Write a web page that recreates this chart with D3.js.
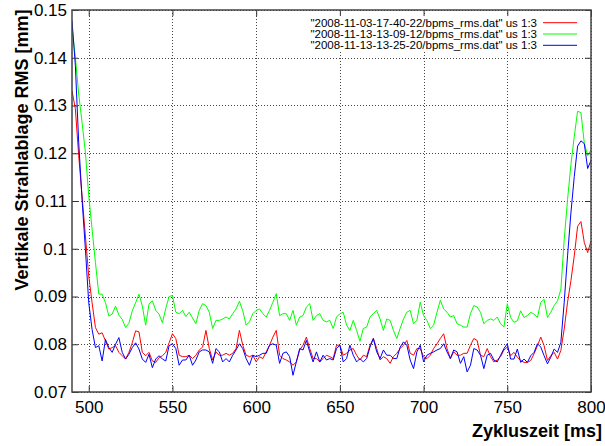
<!DOCTYPE html>
<html>
<head>
<meta charset="utf-8">
<script src="https://cdn.jsdelivr.net/npm/d3@7"></script>
<style>
  body { margin: 0; background: #fff; }
  svg { display: block; font-family: "Liberation Sans", Arial, sans-serif; }
</style>
</head>
<body>
<div id="chart"></div>
<script>
// Zeitachse: alle 2 ms von 490 bis 800
var tStart = 490, tStep = 2;

// Messreihe 2008-11-03-17-40-22 (rot)
var rmsRed = [
  0.1331, 0.1293, 0.1195, 0.1111, 0.1027, 0.0943, 0.0887, 0.0835, 0.0821, 0.0824,
  0.0807, 0.0790, 0.0793, 0.0797, 0.0783, 0.0776, 0.0769, 0.0783, 0.0803, 0.0828,
  0.0826, 0.0783, 0.0776, 0.0783, 0.0765, 0.0762, 0.0772, 0.0776, 0.0783, 0.0803,
  0.0822, 0.0812, 0.0777, 0.0774, 0.0774, 0.0777, 0.0770, 0.0777, 0.0788, 0.0794,
  0.0829, 0.0791, 0.0767, 0.0784, 0.0777, 0.0777, 0.0781, 0.0777, 0.0781, 0.0791,
  0.0829, 0.0798, 0.0777, 0.0774, 0.0777,
  0.0763, 0.0774, 0.0770, 0.0784, 0.0798, 0.0815, 0.0829, 0.0777, 0.0770, 0.0767,
  0.0763, 0.0756, 0.0763, 0.0788, 0.0798, 0.0815, 0.0791, 0.0770, 0.0770, 0.0763,
  0.0770, 0.0777, 0.0774, 0.0770, 0.0798, 0.0798,
  0.0777, 0.0781, 0.0788, 0.0791, 0.0777, 0.0767, 0.0777, 0.0774, 0.0798, 0.0812,
  0.0791, 0.0767, 0.0774, 0.0770, 0.0760, 0.0774, 0.0781, 0.0791, 0.0798, 0.0808,
  0.0781, 0.0777, 0.0791, 0.0791, 0.0774,
  0.0770, 0.0777, 0.0791, 0.0801, 0.0812, 0.0822, 0.0791, 0.0770, 0.0784, 0.0777,
  0.0777, 0.0781, 0.0781, 0.0798, 0.0812, 0.0808, 0.0777, 0.0774, 0.0791, 0.0774,
  0.0763, 0.0767, 0.0774, 0.0788, 0.0794,
  0.0776, 0.0783, 0.0773, 0.0766, 0.0762, 0.0762, 0.0766, 0.0780, 0.0797, 0.0815,
  0.0797, 0.0766, 0.0776, 0.0783, 0.0769, 0.0787, 0.0832, 0.0888, 0.0933, 0.0985,
  0.1047, 0.1057, 0.1013, 0.0992, 0.1016
];

// Messreihe 2008-11-13-13-09-12 (gruen)
var rmsGreen = [
  0.1464, 0.1401, 0.1324, 0.1265, 0.1202, 0.1111, 0.1041, 0.0971, 0.0905, 0.0905,
  0.0887, 0.0859, 0.0863, 0.0880, 0.0861, 0.0852, 0.0835, 0.0844, 0.0870, 0.0887,
  0.0905, 0.0880, 0.0840, 0.0884, 0.0891, 0.0871, 0.0863, 0.0845, 0.0875, 0.0900,
  0.0902, 0.0867, 0.0864, 0.0871, 0.0858, 0.0867, 0.0855, 0.0843, 0.0871, 0.0885,
  0.0881, 0.0867, 0.0833, 0.0850, 0.0850, 0.0853, 0.0857, 0.0853, 0.0864, 0.0874,
  0.0890, 0.0870, 0.0840, 0.0847, 0.0864,
  0.0871, 0.0874, 0.0864, 0.0857, 0.0871, 0.0888, 0.0906, 0.0860, 0.0864, 0.0864,
  0.0850, 0.0871, 0.0840, 0.0857, 0.0860, 0.0878, 0.0885, 0.0850, 0.0860, 0.0864,
  0.0850, 0.0847, 0.0850, 0.0833, 0.0857, 0.0864,
  0.0867, 0.0840, 0.0829, 0.0850, 0.0829, 0.0806, 0.0833, 0.0836, 0.0857, 0.0864,
  0.0871, 0.0853, 0.0829, 0.0853, 0.0850, 0.0829, 0.0812, 0.0833, 0.0853, 0.0867,
  0.0871, 0.0843, 0.0850, 0.0888, 0.0860,
  0.0850, 0.0833, 0.0840, 0.0867, 0.0892, 0.0874, 0.0867, 0.0857, 0.0860, 0.0843,
  0.0840, 0.0836, 0.0836, 0.0864, 0.0881, 0.0878, 0.0867, 0.0843, 0.0850, 0.0853,
  0.0850, 0.0857, 0.0843, 0.0836, 0.0885,
  0.0856, 0.0846, 0.0849, 0.0870, 0.0856, 0.0860, 0.0867, 0.0863, 0.0856, 0.0888,
  0.0894, 0.0856, 0.0867, 0.0881, 0.0891, 0.0915, 0.1019, 0.1103, 0.1176, 0.1235,
  0.1288, 0.1285, 0.1221, 0.1195, 0.1207
];

// Messreihe 2008-11-13-13-25-20 (blau)
var rmsBlue = [
  0.1478, 0.1384, 0.1223, 0.1104, 0.0999, 0.0887, 0.0831, 0.0793, 0.0797, 0.0765,
  0.0810, 0.0793, 0.0783, 0.0800, 0.0814, 0.0783, 0.0769, 0.0779, 0.0793, 0.0803,
  0.0790, 0.0769, 0.0762, 0.0779, 0.0751, 0.0769, 0.0776, 0.0769, 0.0765, 0.0797,
  0.0801, 0.0791, 0.0756, 0.0767, 0.0767, 0.0777, 0.0756, 0.0767, 0.0784, 0.0788,
  0.0788, 0.0784, 0.0760, 0.0791, 0.0784, 0.0763, 0.0770, 0.0763, 0.0777, 0.0788,
  0.0801, 0.0791, 0.0770, 0.0756, 0.0777,
  0.0774, 0.0777, 0.0781, 0.0781, 0.0798, 0.0801, 0.0798, 0.0760, 0.0781, 0.0784,
  0.0774, 0.0735, 0.0763, 0.0791, 0.0788, 0.0808, 0.0784, 0.0763, 0.0784, 0.0763,
  0.0777, 0.0767, 0.0770, 0.0767, 0.0791, 0.0798,
  0.0763, 0.0770, 0.0798, 0.0777, 0.0763, 0.0770, 0.0763, 0.0770, 0.0794, 0.0812,
  0.0784, 0.0770, 0.0788, 0.0777, 0.0777, 0.0770, 0.0770, 0.0794, 0.0805, 0.0798,
  0.0767, 0.0749, 0.0784, 0.0798, 0.0763,
  0.0777, 0.0781, 0.0784, 0.0788, 0.0791, 0.0801, 0.0784, 0.0770, 0.0788, 0.0784,
  0.0760, 0.0774, 0.0742, 0.0756, 0.0791, 0.0788, 0.0777, 0.0749, 0.0777, 0.0781,
  0.0767, 0.0763, 0.0777, 0.0791, 0.0801,
  0.0769, 0.0769, 0.0790, 0.0762, 0.0769, 0.0762, 0.0776, 0.0783, 0.0801, 0.0794,
  0.0776, 0.0759, 0.0773, 0.0790, 0.0783, 0.0804, 0.0888, 0.0985, 0.1075, 0.1151,
  0.1215, 0.1226, 0.1220, 0.1168, 0.1185
];

var seriesNames = [
  '"2008-11-03-17-40-22/bpms_rms.dat" us 1:3',
  '"2008-11-13-13-09-12/bpms_rms.dat" us 1:3',
  '"2008-11-13-13-25-20/bpms_rms.dat" us 1:3'
];
var seriesColors = ["#ff0000", "#00ff00", "#0000ff"];

var xTicks = [500, 550, 600, 650, 700, 750, 800];
var yTicks = [0.07, 0.08, 0.09, 0.10, 0.11, 0.12, 0.13, 0.14, 0.15];

var W = 605, H = 446;
var m = {left: 72, right: 14, top: 10, bottom: 54};

var svg = d3.select("#chart").append("svg").attr("width", W).attr("height", H);

var x = d3.scaleLinear().domain([490, 800]).range([m.left, W - m.right]);
var y = d3.scaleLinear().domain([0.07, 0.15]).range([H - m.bottom, m.top]);

svg.append("clipPath").attr("id", "clip")
  .append("rect")
  .attr("x", m.left).attr("y", m.top)
  .attr("width", x.range()[1] - m.left).attr("height", y.range()[0] - m.top);

//Gitter
var grid = svg.append("g").attr("stroke", "#444").attr("stroke-width", 1).attr("stroke-dasharray", "1,2");
grid.selectAll(".gx").data(xTicks).enter().append("line")
  .attr("x1", d => Math.round(x(d)) + 0.5).attr("x2", d => Math.round(x(d)) + 0.5)
  .attr("y1", y.range()[1]).attr("y2", y.range()[0]);
grid.selectAll(".gy").data(yTicks).enter().append("line")
  .attr("y1", d => Math.round(y(d)) + 0.5).attr("y2", d => Math.round(y(d)) + 0.5)
  .attr("x1", x.range()[0]).attr("x2", x.range()[1]);

// Legende deckt das Gitter ab
svg.append("rect").attr("x", 298).attr("y", 15).attr("width", 286).attr("height", 36).attr("fill", "#fff");

//Kurven
var times = rmsRed.map((v, i) => tStart + i * tStep);
var line = d3.line().x(d => x(d[0])).y(d => y(d[1]));
var allSeries = [rmsRed, rmsGreen, rmsBlue];
var plot = svg.append("g").attr("clip-path", "url(#clip)");
allSeries.forEach(function (s, k) {
  plot.append("path")
    .datum(s.map((v, i) => [times[i], v]))
    .attr("fill", "none")
    .attr("stroke", seriesColors[k])
    .attr("stroke-width", 1)
    .attr("d", line);
});

//Achsen
var fmt = d => String(+d.toFixed(2));
svg.append("g").attr("transform", "translate(" + m.left + ",0)")
  .call(d3.axisLeft(y).tickValues(yTicks).tickFormat(fmt).tickSizeInner(-6).tickSizeOuter(0).tickPadding(5));
svg.append("g").attr("transform", "translate(0," + (H - m.bottom) + ")")
  .call(d3.axisBottom(x).tickValues(xTicks).tickSizeInner(-6).tickSizeOuter(0).tickPadding(9));
svg.append("g").attr("transform", "translate(" + x.range()[1] + ",0)")
  .call(d3.axisRight(y).tickValues(yTicks).tickFormat("").tickSizeInner(-6).tickSizeOuter(0));
svg.append("g").attr("transform", "translate(0," + m.top + ")")
  .call(d3.axisTop(x).tickValues(xTicks).tickFormat("").tickSizeInner(-6).tickSizeOuter(0));
svg.selectAll(".domain").remove();
svg.selectAll(".tick line").attr("stroke", "#333");
svg.selectAll(".tick text").attr("font-size", 17).attr("fill", "#000")
  .attr("font-family", "'Liberation Sans', Arial, sans-serif");

svg.append("rect")
  .attr("x", x.range()[0]).attr("y", y.range()[1])
  .attr("width", x.range()[1] - x.range()[0]).attr("height", y.range()[0] - y.range()[1])
  .attr("fill", "none").attr("stroke", "#444").attr("stroke-width", 1.5);

//Legende
var leg = svg.append("g").attr("font-size", 11.5);
seriesNames.forEach(function (name, k) {
  var ly = 22.7 + k * 11.3;
  leg.append("text").attr("x", 537).attr("y", ly + 4).attr("text-anchor", "end").text(name);
  leg.append("line").attr("x1", 543).attr("x2", 577).attr("y1", ly).attr("y2", ly)
    .attr("stroke", seriesColors[k]).attr("stroke-width", 1);
});

//Achsentitel
svg.append("text").attr("x", 602).attr("y", 437).attr("text-anchor", "end")
  .attr("font-size", 18).attr("font-weight", "bold").text("Zykluszeit [ms]");
svg.append("text").attr("transform", "translate(28,150) rotate(-90)").attr("text-anchor", "middle")
  .attr("font-size", 18).attr("font-weight", "bold").text("Vertikale Strahlablage RMS [mm]");
</script>
</body>
</html>
